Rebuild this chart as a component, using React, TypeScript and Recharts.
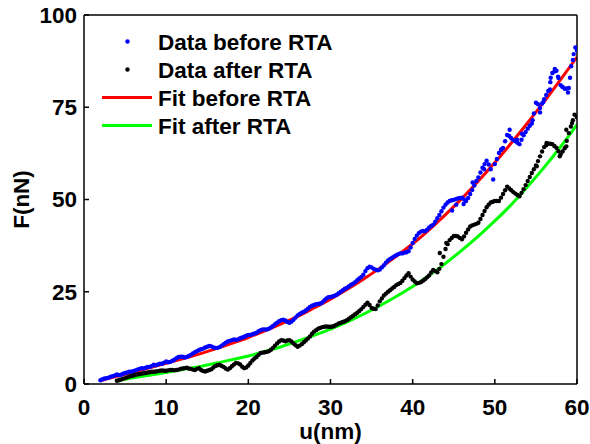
import React from 'react';
import { ComposedChart, Scatter, Line, XAxis, YAxis, Legend } from 'recharts';

const xTicks = [0, 10, 20, 30, 40, 50, 60];
const yTicks = [0, 25, 50, 75, 100];
const legendLabels = ['Data before RTA', 'Data after RTA', 'Fit before RTA', 'Fit after RTA'];
const seriesColors = ['#0000ff', '#000000', '#ff0000', '#00ff00'];

// [u (nm), F (nN)]
const dataBeforeRTA: [number, number][] = [
  [2.0, 1.0], [2.5, 1.5], [3.0, 1.7], [3.5, 2.1], [4.0, 2.6], [4.5, 2.5], [5.0, 3.0], [5.5, 3.3],
  [6.0, 3.5], [6.5, 3.9], [7.0, 4.3], [7.5, 4.4], [8.0, 4.6], [8.5, 5.2], [9.0, 5.3], [9.5, 5.5],
  [10.0, 6.1], [10.5, 6.0], [11.0, 6.6], [11.5, 7.3], [12.0, 7.4], [12.5, 7.3], [13.0, 7.9], [13.5, 8.6],
  [14.0, 9.2], [14.5, 9.6], [15.0, 10.1], [15.5, 10.2], [16.0, 9.8], [16.5, 10.0], [17.0, 10.8], [17.5, 11.5],
  [18.0, 11.9], [18.5, 12.0], [19.0, 12.4], [19.5, 12.8], [20.0, 13.3], [20.5, 13.5], [21.0, 13.9], [21.5, 14.6],
  [22.0, 14.8], [22.5, 15.0], [23.0, 15.7], [23.5, 16.6], [24.0, 17.3], [24.5, 17.2], [25.0, 16.6], [25.5, 17.4],
  [26.0, 18.6], [26.5, 19.3], [27.0, 19.9], [27.5, 20.9], [28.0, 21.4], [28.5, 21.7], [29.0, 22.1], [29.5, 23.2],
  [30.0, 23.6], [30.5, 23.9], [31.0, 24.6], [31.5, 25.4], [32.0, 26.1], [32.5, 26.9], [33.0, 27.6], [33.5, 28.6],
  [34.0, 29.6], [34.5, 31.4], [35.0, 31.6], [35.5, 31.0], [36.0, 31.0], [36.5, 32.2], [37.0, 33.5], [37.5, 34.2],
  [38.0, 34.9], [38.5, 35.4], [39.0, 35.6], [39.5, 36.0], [40.0, 38.2], [40.5, 40.2], [41.0, 41.3], [41.5, 41.4],
  [42.0, 42.4], [42.5, 43.2], [43.0, 44.9], [43.5, 46.8], [44.0, 48.6], [44.5, 49.6], [45.0, 49.9], [45.5, 50.3],
  [46.0, 50.5], [46.5, 49.6], [47.0, 51.5], [47.5, 53.8], [48.0, 56.0], [48.5, 58.6], [49.0, 60.5], [49.5, 58.2],
  [49.8, 55.4], [50.0, 59.6], [50.5, 62.6], [51.0, 64.0], [51.5, 67.5], [52.0, 66.6], [52.5, 65.8], [53.0, 65.0],
  [53.5, 67.4], [54.0, 69.2], [54.5, 70.6], [55.0, 76.2], [55.5, 74.8], [56.0, 77.2], [56.5, 79.4], [57.0, 84.3],
  [57.5, 84.9], [58.0, 81.0], [58.5, 80.0], [59.0, 80.2], [59.3, 86.1], [59.6, 89.4], [60.0, 90.4],
  [44.8, 47.0], [45.3, 48.6], [46.2, 48.8], [47.3, 54.6], [48.7, 58.2], [50.8, 63.6], [51.8, 68.9], [52.7, 66.2],
  [53.3, 67.8], [54.6, 71.5], [55.5, 73.6], [55.9, 76.4], [56.7, 79.8], [56.8, 83.0], [57.3, 85.4], [57.7, 83.3],
  [58.2, 80.6], [58.9, 79.0], [59.5, 87.8], [59.8, 91.2],
  [2.25, 1.3], [2.75, 1.6], [3.25, 2.0], [3.75, 2.3], [4.25, 2.4], [4.75, 2.8], [5.25, 3.1], [5.75, 3.3],
  [6.25, 3.7], [6.75, 4.1], [7.25, 4.2], [7.75, 4.6], [8.25, 4.9], [8.75, 5.1], [9.25, 5.5], [9.75, 5.8],
  [10.25, 5.9], [10.75, 6.3], [11.25, 7.0], [11.75, 7.4], [12.25, 7.2], [12.75, 7.6], [13.25, 8.3], [13.75, 8.9],
  [14.25, 9.4], [14.75, 9.9], [15.25, 10.3], [15.75, 9.9], [16.25, 9.8], [16.75, 10.4], [17.25, 11.2], [17.75, 11.7],
  [18.25, 12.1], [18.75, 12.1], [19.25, 12.6], [19.75, 13.1], [20.25, 13.3], [20.75, 13.7], [21.25, 14.3], [21.75, 14.8],
  [22.25, 14.8], [22.75, 15.3], [23.25, 16.2], [23.75, 17.0], [24.25, 17.4], [24.75, 16.8], [25.25, 16.9], [25.75, 18.0],
  [26.25, 19.0], [26.75, 19.6], [27.25, 20.4], [27.75, 21.2], [28.25, 21.6], [28.75, 21.8], [29.25, 22.7], [29.75, 23.5],
  [30.25, 23.7], [30.75, 24.2], [31.25, 25.0], [31.75, 25.8], [32.25, 26.5], [32.75, 27.2], [33.25, 28.1], [33.75, 29.0],
  [34.25, 30.6], [34.75, 31.8], [35.25, 31.2], [35.75, 30.8], [36.25, 31.6], [36.75, 32.9], [37.25, 33.9], [37.75, 34.6],
  [38.25, 35.2], [38.75, 35.4], [39.25, 35.7], [39.75, 37.0], [40.25, 39.3], [40.75, 40.9], [41.25, 41.5], [41.75, 41.8],
  [42.25, 42.8], [42.75, 44.0], [43.25, 45.8], [43.75, 47.8],
  [44.25, 49.2], [44.75, 49.8], [45.25, 50.1], [45.75, 50.4], [46.25, 50.0], [46.75, 50.4], [47.25, 52.6], [47.75, 55.0],
  [48.25, 57.3], [48.75, 59.6], [49.25, 59.5], [50.25, 61.0], [50.75, 63.4], [51.25, 65.8], [51.75, 67.2], [52.25, 66.1],
  [52.75, 65.4], [53.25, 66.2], [53.75, 68.3], [54.25, 70.0], [54.75, 73.3], [55.25, 75.8], [55.75, 76.0], [56.25, 78.3],
  [56.75, 81.8], [57.25, 84.7], [57.75, 82.9], [58.25, 80.5], [58.75, 80.1], [59.15, 83.0],
];

const dataAfterRTA: [number, number][] = [
  [4.0, 0.9], [4.5, 1.2], [5.0, 1.6], [5.5, 2.0], [6.0, 2.3], [6.5, 2.6], [7.0, 2.8], [7.5, 3.0],
  [8.0, 3.2], [8.5, 3.3], [9.0, 3.5], [9.5, 3.7], [10.0, 3.6], [10.5, 3.8], [11.0, 3.7], [11.5, 3.9],
  [12.0, 4.2], [12.5, 4.4], [13.0, 4.1], [13.5, 3.8], [14.0, 4.3], [14.5, 3.5], [15.0, 3.6], [15.5, 4.0],
  [16.0, 4.9], [16.5, 5.2], [17.0, 4.6], [17.5, 3.9], [18.0, 4.8], [18.5, 5.7], [19.0, 5.3], [19.5, 4.3],
  [20.0, 5.0], [20.5, 6.4], [21.0, 7.3], [21.5, 8.4], [22.0, 8.6], [22.5, 8.9], [23.0, 9.8], [23.5, 11.0],
  [24.0, 11.9], [24.5, 11.6], [25.0, 11.9], [25.5, 11.0], [26.0, 10.1], [26.5, 10.8], [27.0, 11.8], [27.5, 12.9],
  [28.0, 14.2], [28.5, 15.0], [29.0, 15.4], [29.5, 15.6], [30.0, 15.5], [30.5, 15.8], [31.0, 16.4], [31.5, 16.8],
  [32.0, 17.3], [32.5, 18.1], [33.0, 18.9], [33.5, 19.8], [34.0, 20.9], [34.5, 22.0], [35.0, 20.6], [35.5, 20.3],
  [36.0, 22.4], [36.5, 24.0], [37.0, 25.0], [37.5, 25.9], [38.0, 26.8], [38.5, 27.4], [39.0, 28.7], [39.5, 30.0],
  [40.0, 28.3], [40.5, 27.3], [41.0, 27.6], [41.5, 28.4], [42.0, 29.4], [42.5, 30.9], [43.0, 30.3], [43.5, 32.5],
  [44.0, 36.6], [44.5, 39.0], [45.0, 40.1], [45.5, 40.0], [46.0, 39.2], [46.5, 41.0], [47.0, 42.7], [47.5, 43.2],
  [48.0, 43.7], [48.5, 45.8], [49.0, 47.9], [49.5, 49.2], [50.0, 49.6], [50.5, 49.6], [51.0, 51.5], [51.5, 53.5],
  [52.0, 52.5], [52.5, 51.6], [53.0, 50.9], [53.5, 52.8], [54.0, 55.0], [54.5, 57.2], [55.0, 59.2], [55.5, 61.7],
  [56.0, 64.2], [56.5, 65.1], [57.0, 65.0], [57.5, 64.0], [58.0, 62.2], [58.5, 63.9], [59.0, 68.0], [59.5, 71.5],
  [60.0, 72.3],
  [43.3, 35.5], [44.1, 38.2], [55.1, 59.0], [56.3, 65.3], [57.9, 61.7], [58.7, 64.4], [58.7, 68.9], [59.4, 70.7],
  [59.7, 73.0],
  [4.25, 1.0], [4.75, 1.4], [5.25, 1.8], [5.75, 2.2], [6.25, 2.5], [6.75, 2.7], [7.25, 2.9], [7.75, 3.1],
  [8.25, 3.3], [8.75, 3.4], [9.25, 3.6], [9.75, 3.6], [10.25, 3.7], [10.75, 3.8], [11.25, 3.8], [11.75, 4.1],
  [12.25, 4.3], [12.75, 4.2], [13.25, 3.9], [13.75, 4.1], [14.25, 3.8], [14.75, 3.4], [15.25, 3.8], [15.75, 4.5],
  [16.25, 5.1], [16.75, 4.9], [17.25, 4.2], [17.75, 4.3], [18.25, 5.3], [18.75, 5.6], [19.25, 4.7], [19.75, 4.5],
  [20.25, 5.7], [20.75, 6.9], [21.25, 7.9], [21.75, 8.5], [22.25, 8.7], [22.75, 9.3], [23.25, 10.4], [23.75, 11.5],
  [24.25, 11.8], [24.75, 11.8], [25.25, 11.5], [25.75, 10.5], [26.25, 10.4], [26.75, 11.3], [27.25, 12.3], [27.75, 13.6],
  [28.25, 14.6], [28.75, 15.2], [29.25, 15.5], [29.75, 15.5], [30.25, 15.6], [30.75, 16.1], [31.25, 16.6], [31.75, 17.0],
  [32.25, 17.7], [32.75, 18.5], [33.25, 19.3], [33.75, 20.3], [34.25, 21.5], [34.75, 21.4], [35.25, 20.4], [35.75, 21.3],
  [36.25, 23.2], [36.75, 24.5], [37.25, 25.4], [37.75, 26.3], [38.25, 27.1], [38.75, 28.0], [39.25, 29.4], [39.75, 29.1],
  [40.25, 27.8], [40.75, 27.4], [41.25, 28.0], [41.75, 28.9], [42.25, 30.2], [42.75, 30.6], [43.25, 31.2], [43.75, 34.5],
  [44.25, 37.9], [44.75, 39.6], [45.25, 40.1], [45.75, 39.6], [46.25, 40.0], [46.75, 41.9], [47.25, 43.0], [47.75, 43.4],
  [48.25, 44.7], [48.75, 46.9], [49.25, 48.6], [49.75, 49.4], [50.25, 49.6], [50.75, 50.5], [51.25, 52.5], [51.75, 53.0],
  [52.25, 52.0], [52.75, 51.2], [53.25, 51.8], [53.75, 53.9], [54.25, 56.1], [54.75, 58.2], [55.25, 60.4], [55.75, 63.0],
  [56.25, 64.7], [56.75, 65.1], [57.25, 64.5], [57.75, 63.1], [58.25, 63.0], [58.75, 65.9], [59.25, 69.8],
];

const fitBeforeRTA: [number, number][] = [
  [2, 0.9], [4, 2.1], [6, 3.2], [8, 4.4], [10, 5.6], [12, 6.8], [14, 8.1], [16, 9.5], [18, 11.0], [20, 12.6],
  [22, 14.4], [24, 16.3], [26, 18.3], [28, 20.6], [30, 23.0], [32, 25.6], [34, 28.4], [36, 31.4], [38, 34.6],
  [40, 38.0], [42, 41.8], [44, 45.9], [46, 50.3], [48, 55.0], [50, 60.0], [52, 65.3], [54, 70.8], [56, 76.5],
  [58, 82.5], [60, 88.6],
];

const fitAfterRTA: [number, number][] = [
  [4, 0.9], [6, 1.7], [8, 2.4], [10, 3.1], [12, 3.9], [14, 4.7], [16, 5.6], [18, 6.6], [20, 7.6], [22, 8.8],
  [24, 10.1], [26, 11.6], [28, 13.2], [30, 14.9], [32, 16.8], [34, 18.9], [36, 21.2], [38, 23.7], [40, 26.4],
  [42, 29.4], [44, 32.7], [46, 36.3], [48, 40.1], [50, 44.2], [52, 48.6], [54, 53.5], [56, 58.7], [58, 64.3],
  [60, 70.3],
];

const toPoints = (arr: [number, number][]) => arr.map(([u, F]) => ({ u, F }));

const FONT = '"Liberation Sans", Arial, Helvetica, sans-serif';
const FS = 22.5;
const tickStyle = { fill: '#000', fontSize: FS, fontWeight: 'bold' as const, fontFamily: FONT };
const axisLineStyle = { stroke: '#000', strokeWidth: 1.5 };

const makeDot = (color: string) => (props: any) => (
  <circle cx={props.cx} cy={props.cy} r={2.2} fill={color} stroke="none" />
);

const LegendBox = () => {
  const rowY = [41.5, 69.5, 97.5, 125.5];
  return (
    <svg width={590} height={150} style={{ display: 'block' }}>
      {legendLabels.map((label, i) => (
        <g key={label}>
          {i < 2 ? (
            <circle cx={127.5} cy={rowY[i]} r={2.2} fill={seriesColors[i]} />
          ) : (
            <line x1={102} x2={152} y1={rowY[i]} y2={rowY[i]} stroke={seriesColors[i]} strokeWidth={3} />
          )}
          <text x={158} y={rowY[i] + 8} fontSize={FS} fontWeight="bold" fontFamily={FONT} fill="#000">
            {label}
          </text>
        </g>
      ))}
    </svg>
  );
};

const YLabel = (props: any) => {
  const vb = props.viewBox || { x: 24, y: 15, width: 60, height: 369 };
  const cx = vb.x + 5;
  const cy = vb.y + vb.height / 2;
  return (
    <text x={cx} y={cy} transform={`rotate(-90 ${cx} ${cy})`} textAnchor="middle" fontSize={FS}
      fontWeight="bold" fontFamily={FONT} fill="#000">F(nN)</text>
  );
};

export default function App() {
  return (
    <div style={{ position: 'absolute', left: 0, top: 0, width: 590, height: 444, background: '#fff' }}>
      <ComposedChart width={590} height={444} margin={{ top: 14, right: 12, bottom: 0, left: 24 }}>
        <XAxis dataKey="u" type="number" domain={[0, 60]} ticks={xTicks} interval={0} height={60}
          tickSize={-5} tickMargin={20} axisLine={axisLineStyle} tickLine={axisLineStyle} tick={tickStyle}
          allowDataOverflow
          label={{ value: 'u(nm)', position: 'insideBottom', offset: 5, style: { ...tickStyle } }} />
        <XAxis xAxisId="top" orientation="top" type="number" domain={[0, 60]} ticks={xTicks} interval={0}
          height={1} tickSize={-5} axisLine={axisLineStyle} tickLine={axisLineStyle} tick={false} />
        <YAxis dataKey="F" type="number" domain={[0, 100]} ticks={yTicks} interval={0} width={60}
          tickSize={-5} tickMargin={12} axisLine={axisLineStyle} tickLine={axisLineStyle} tick={tickStyle}
          allowDataOverflow label={{ value: 'F(nN)', content: YLabel }} />
        <YAxis yAxisId="right" orientation="right" type="number" domain={[0, 100]} ticks={yTicks} interval={0}
          width={1} tickSize={-5} axisLine={axisLineStyle} tickLine={axisLineStyle} tick={false} />
        <Scatter name={legendLabels[0]} data={toPoints(dataBeforeRTA)} fill={seriesColors[0]}
          shape={makeDot(seriesColors[0])} isAnimationActive={false} />
        <Scatter name={legendLabels[1]} data={toPoints(dataAfterRTA)} fill={seriesColors[1]}
          shape={makeDot(seriesColors[1])} isAnimationActive={false} />
        <Line name={legendLabels[2]} data={toPoints(fitBeforeRTA)} dataKey="F" type="monotone"
          stroke={seriesColors[2]} strokeWidth={3} dot={false} activeDot={false} isAnimationActive={false} />
        <Line name={legendLabels[3]} data={toPoints(fitAfterRTA)} dataKey="F" type="monotone"
          stroke={seriesColors[3]} strokeWidth={3} dot={false} activeDot={false} isAnimationActive={false} />
        <Legend layout="vertical" align="center" verticalAlign="middle"
          wrapperStyle={{ left: 0, top: 0, width: 590, height: 150 }} content={() => <LegendBox />} />
      </ComposedChart>
    </div>
  );
}
